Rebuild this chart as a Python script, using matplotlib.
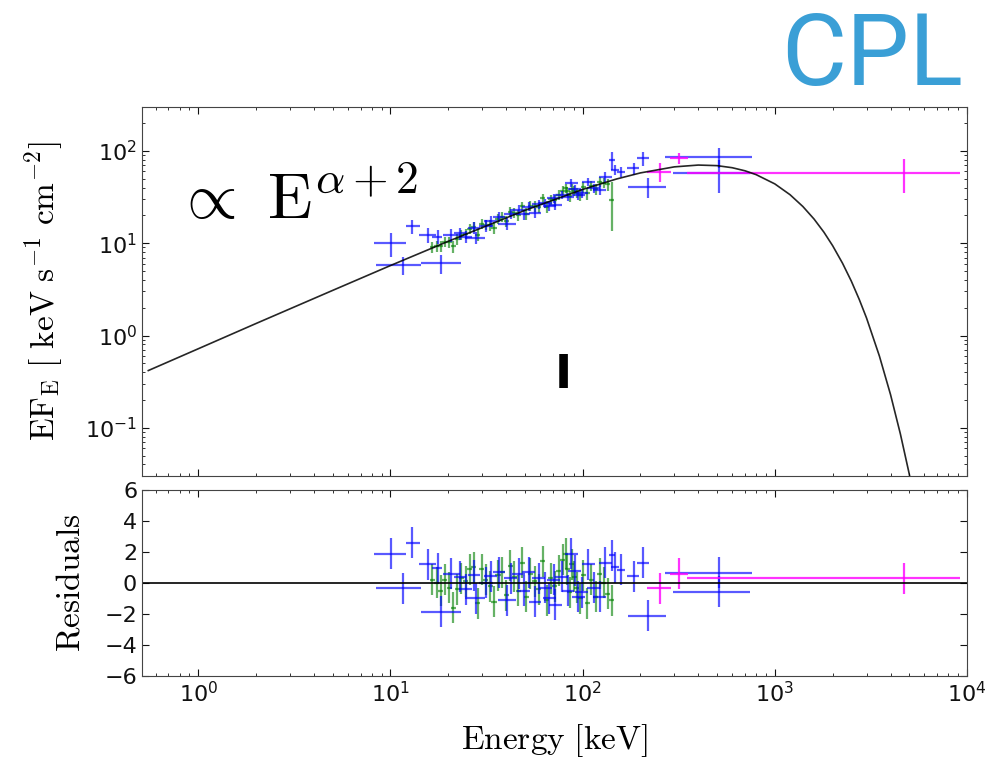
import matplotlib
matplotlib.use("Agg")
import matplotlib.pyplot as plt
import numpy as np

# CPL model curve (keV, keV s^-1 cm^-2)
model_e = [0.55, 1, 2, 5, 10, 20, 50, 100, 150, 200, 300, 400, 500, 600, 700, 800,
           1000, 1200, 1400, 1600, 1800, 2000, 2250, 2500, 2750, 3000, 3500, 4000,
           4500, 5000, 5500]
model_f = [0.417, 0.718, 1.35, 3.08, 5.73, 10.5, 22.7, 38.3, 49.7, 57.9, 67.3, 70.4,
           69.4, 65.9, 61.0, 55.4, 44.0, 33.6, 25.0, 18.3, 13.2, 9.40, 6.08, 3.89,
           2.46, 1.55, 0.600, 0.229, 0.0859, 0.0319, 0.0117]

# blue detector (NaI)
blue_e = [10.1, 11.6, 13.0, 15.6, 17.6, 18.3, 20.6, 23.0, 24.6, 27.2, 27.8, 31.5,
          33.3, 36.7, 40.5, 42.2, 46.6, 49.5, 52.5, 56.5, 59.0, 64.0, 67.0, 70.6,
          72.0, 78.0, 84.0, 87.5, 91.0, 95.0, 99.0, 107, 114, 123, 131, 142, 147,
          159, 184, 207, 219, 515, 515]
blue_lo = [8.26, 8.45, 12.0, 14.1, 16.5, 14.5, 18.8, 21.3, 22.8, 25.2, 24.5, 29.0,
           30.8, 34.0, 36.5, 39.0, 43.0, 45.8, 48.6, 52.3, 54.6, 59.2, 62.0, 65.3,
           66.6, 72.2, 77.7, 81.0, 84.2, 87.9, 91.6, 99.0, 105.5, 113.8, 121, 137,
           140, 151, 171, 192, 172, 269, 296]
blue_hi = [12.1, 14.5, 14.3, 17.3, 18.5, 23.3, 23.0, 24.8, 26.5, 29.4, 31.0, 34.3,
           36.0, 39.6, 45.0, 45.6, 50.3, 53.5, 56.7, 61.0, 63.7, 69.1, 72.4, 76.2,
           77.8, 84.2, 90.7, 94.5, 98.3, 102.6, 106.9, 115.6, 123, 132.8, 141.5, 148,
           155, 167, 197, 222, 273, 757, 745]
blue_f = [10.0, 5.87, 15.2, 12.3, 11.8, 6.1, 12.2, 12.8, 11.8, 14.8, 11.5, 15.5,
          17.3, 19.4, 16.2, 21.0, 23.0, 20.5, 25.0, 21.5, 26.8, 27.0, 25.5, 30.8,
          26.0, 33.5, 32.0, 44.8, 39.0, 33.0, 35.0, 46.6, 39.5, 37.9, 52.7, 80.0,
          62.3, 59.7, 65.0, 83.4, 40.6, 86.8, 57.4]
blue_ferr = [2.9, 1.3, 2.5, 2.2, 2.0, 1.4, 2.0, 2.0, 1.8, 2.2, 1.8, 2.2, 2.3, 2.5,
             2.4, 2.6, 2.8, 2.6, 2.9, 2.7, 3.0, 3.1, 3.0, 3.3, 3.0, 3.5, 3.4, 4.5,
             4.0, 3.6, 3.8, 5.0, 4.6, 4.6, 6.0, 17.0, 8.0, 8.0, 10.0, 14.0, 10.0,
             22.0, 22.0]
blue_res = [1.9, -0.35, 2.6, 1.2, 0.95, -1.85, 0.6, 0.4, -0.4, 0.5, -1.0, 0.0,
            0.45, 0.7, -1.1, 0.3, 0.6, -0.5, 0.7, -1.2, 0.3, -0.3, -1.0, 0.2, -1.4,
            0.4, -0.5, 1.9, 0.8, -0.9, -0.6, 1.2, -0.3, -0.9, 1.3, 1.8, 1.0, 0.85,
            0.45, 1.3, -2.1, 0.65, -0.56]

# green detector (BGO)
green_e = [16.5, 17.4, 18.3, 19.2, 20.2, 21.2, 22.3, 23.4, 24.6, 25.8, 27.1, 28.5,
           29.9, 31.4, 33.0, 34.6, 36.3, 38.1, 40.0, 42.0, 44.1, 46.3, 48.6, 51.0,
           53.5, 56.2, 59.0, 62.0, 65.1, 68.3, 71.7, 75.3, 79.0, 81.5, 83.0, 85.5,
           88.0, 90.5, 93.0, 97.0, 101.0, 106.0, 111.0, 117.0, 123.0, 129.0, 135.0,
           142.0]
green_xerr = [0.5, 0.5, 0.55, 0.6, 0.6, 0.65, 0.7, 0.7, 0.75, 0.8, 0.8, 0.85, 0.9,
              0.95, 1.0, 1.05, 1.1, 1.15, 1.2, 1.25, 1.3, 1.4, 1.45, 1.5, 1.6, 1.7,
              1.8, 1.85, 1.95, 2.05, 2.15, 2.25, 2.35, 2.45, 2.5, 2.55, 2.65, 2.7,
              2.8, 2.9, 3.0, 3.2, 3.3, 3.5, 3.7, 3.9, 4.0, 4.3]
green_f = [9.08, 9.33, 9.26, 10.36, 10.30, 9.30, 11.11, 12.42, 12.73, 14.29, 15.04,
           12.41, 16.19, 15.79, 15.82, 14.78, 18.35, 19.48, 17.43, 21.88, 21.33,
           20.32, 25.07, 20.99, 25.40, 25.18, 24.84, 30.68, 24.87, 29.85, 29.47,
           33.70, 37.18, 39.38, 36.55, 32.20, 39.17, 37.11, 35.28, 33.64, 40.46,
           34.65, 41.91, 38.70, 46.59, 45.20, 43.34, 29.6]
green_ferr = [1.2, 1.2, 1.25, 1.3, 1.35, 1.4, 1.5, 1.55, 1.6, 1.7, 1.75, 1.8, 1.95,
              2.0, 2.1, 2.2, 2.3, 2.35, 2.5, 2.6, 2.65, 2.8, 2.85, 3.0, 3.1, 3.25,
              3.4, 3.5, 3.65, 3.8, 3.9, 4.0, 4.15, 4.3, 4.35, 4.4, 4.55, 4.7, 4.7,
              4.8, 5.1, 5.2, 5.3, 5.6, 5.7, 5.9, 6.1, 16.0]
green_res = [0.2, 0.0, -0.5, 0.2, -0.3, -1.6, -0.4, 0.3, 0.1, 0.9, 1.0, -1.3, 0.9,
             0.2, -0.2, -1.2, 0.5, 0.7, -0.8, 1.1, 0.4, -0.5, 1.3, -0.9, 0.6, 0.1,
             -0.4, 1.4, -1.1, 0.3, -0.2, 0.8, 1.5, 1.9, 0.9, -0.6, 1.2, 0.4, -0.3,
             -1.0, 0.5, -1.3, 0.2, -0.9, 0.6, 0.0, -0.7, -1.1]

# magenta detector (LAT LLE)
mag_e = [253, 318, 4680]
mag_lo = [217, 285, 351]
mag_hi = [288, 354, 9200]
mag_f = [59.7, 83.4, 58.2]
mag_ferr = [13.5, 12.0, 23.0]
mag_res = [-0.35, 0.6, 0.3]

sets = [
    (green_e, [green_xerr, green_xerr], green_f, green_ferr, green_res, '#008000', 0.6),
    (blue_e, [np.subtract(blue_e, blue_lo), np.subtract(blue_hi, blue_e)],
     blue_f, blue_ferr, blue_res, '#0000ff', 0.65),
    (mag_e, [np.subtract(mag_e, mag_lo), np.subtract(mag_hi, mag_e)],
     mag_f, mag_ferr, mag_res, '#ff00ff', 0.8),
]

fig = plt.figure(figsize=(10.05, 7.68), dpi=100)
ax1 = fig.add_axes([0.1413, 0.3802, 0.8209, 0.4805])
ax2 = fig.add_axes([0.1413, 0.1198, 0.8209, 0.2422], sharex=ax1)

for e, xerr, f, ferr, res, col, a in sets:
    ax1.errorbar(e, f, xerr=xerr, yerr=ferr, fmt='none', ecolor=col,
                 elinewidth=1.6, alpha=a, capsize=0)
    ax2.errorbar(e, res, xerr=xerr, yerr=1.0, fmt='none', ecolor=col,
                 elinewidth=1.6, alpha=a, capsize=0)

ax1.plot(model_e, model_f, color='black', lw=1.2, alpha=0.85, zorder=4)
ax2.axhline(0, color='black', lw=1.2)

ax1.set_xscale('log')
ax1.set_yscale('log')
ax1.set_xlim(0.51, 1e4)
ax1.set_ylim(0.03, 300)
ax2.set_ylim(-6, 6)
ax2.set_yticks([-6, -4, -2, 0, 2, 4, 6])

for ax in (ax1, ax2):
    ax.tick_params(which='both', direction='in', top=True, right=True,
                   labelsize=16, colors='#111111')
    ax.tick_params(which='major', length=5)
    ax.tick_params(which='minor', length=2.5)
    for s in ax.spines.values():
        s.set_color('#444444')
ax1.tick_params(labelbottom=False)

ax1.set_ylabel(r'$\mathrm{EF_E\ [\ keV\ s^{-1}\ cm^{-2}]}$', math_fontfamily='cm',
               fontsize=24)
ax1.yaxis.set_label_coords(-0.093, 0.5)
ax2.set_ylabel(r'$\mathrm{Residuals}$', math_fontfamily='cm', fontsize=24)
ax2.yaxis.set_label_coords(-0.067, 0.5)
ax2.set_xlabel(r'$\mathrm{Energy\ [keV]}$', math_fontfamily='cm', fontsize=24)
ax2.xaxis.set_label_coords(0.5, -0.25)

ax1.text(0.04, 0.70, r'$\propto\ \mathrm{E}^{\alpha+2}$', math_fontfamily='cm',
         fontsize=47, transform=ax1.transAxes)

fig.text(563 / 1005, 1 - 376 / 768, 'I', fontweight='bold', fontsize=33,
         ha='center', va='center')
fig.text(872 / 1005, 1 - 57 / 768, 'CPL', color='#3a9fd6', fontsize=72,
         family='Roboto', ha='center', va='center')

fig.savefig('out.png', dpi=100)
